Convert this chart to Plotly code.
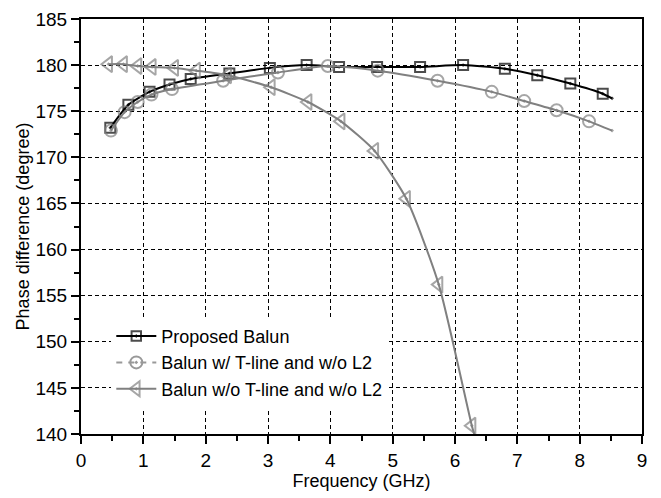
import plotly.graph_objects as go

# ---- data ----
prop_x = [0.47, 0.76, 1.10, 1.42, 1.76, 2.38, 3.03, 3.62, 4.14, 4.75, 5.44, 6.13, 6.80, 7.32, 7.85, 8.37, 8.52]
prop_y = [173.2, 175.7, 177.1, 177.9, 178.5, 179.1, 179.7, 180.0, 179.8, 179.8, 179.8, 180.0, 179.6, 178.9, 178.0, 176.9, 176.4]
prop_m = [1] * 16 + [0]

tl_x = [0.48, 0.70, 0.91, 1.13, 1.46, 2.28, 3.16, 3.96, 4.76, 5.72, 6.59, 7.11, 7.63, 8.15, 8.52]
tl_y = [172.9, 174.9, 176.0, 176.8, 177.4, 178.3, 179.2, 179.9, 179.4, 178.3, 177.1, 176.1, 175.1, 173.9, 172.9]
tl_m = [1] * 14 + [0]

no_x = [0.44, 0.68, 0.91, 1.14, 1.50, 1.85, 2.35, 3.05, 3.64, 4.17, 4.71, 5.22, 5.74, 6.27, 6.33]
no_y = [180.1, 180.1, 179.9, 179.8, 179.7, 179.4, 178.9, 177.6, 176.0, 173.9, 170.7, 165.5, 156.2, 140.9, 139.5]
no_m = [1] * 14 + [0]

names = ["Proposed Balun", "Balun w/ T-line and w/o L2", "Balun w/o T-line and w/o L2"]
x_ticks = list(range(0, 10))
y_ticks = list(range(140, 186, 5))

FONT = "Liberation Sans Narrow, Arial Narrow, Liberation Sans, Arial, sans-serif"
BLACK = "#000000"
GRAY = "#808080"

fig = go.Figure()

def sizes(mask, s):
    return [s if m else 0 for m in mask]

fig.add_trace(go.Scatter(
    x=prop_x, y=prop_y, name=names[0], mode="lines+markers",
    line=dict(color=BLACK, width=2, shape="spline", smoothing=0.6),
    marker=dict(symbol="square-open-dot", size=sizes(prop_m, 10), color=BLACK, line=dict(width=2, color=BLACK)),
))
fig.add_trace(go.Scatter(
    x=tl_x, y=tl_y, name=names[1], mode="lines+markers", showlegend=False,
    line=dict(color=GRAY, width=2, shape="spline", smoothing=0.6),
    marker=dict(symbol="circle-open-dot", size=sizes(tl_m, 12), color=GRAY, line=dict(width=2, color=GRAY)),
))
fig.add_trace(go.Scatter(
    x=[None], y=[None], name=names[1], mode="lines+markers",
    line=dict(color="#999999", width=2, dash="6px,6px"),
    marker=dict(symbol="circle-open-dot", size=12, color="#999999", line=dict(width=2, color="#999999")),
))
fig.add_trace(go.Scatter(
    x=no_x, y=no_y, name=names[2], mode="lines+markers",
    line=dict(color=GRAY, width=2, shape="spline", smoothing=0.6),
    marker=dict(symbol="triangle-left-open-dot", size=sizes(no_m, 14), color=GRAY, line=dict(width=2, color=GRAY)),
))

axis_common = dict(
    showline=True, linewidth=2, linecolor=BLACK, mirror=True,
    ticks="outside", ticklen=8, tickwidth=2, tickcolor=BLACK,
    showgrid=True, gridcolor=BLACK, gridwidth=1, griddash="4px,3px",
    zeroline=False, automargin=False, ticklabeloverflow="allow",
    tickfont=dict(family=FONT, size=19, color=BLACK),
    title_font=dict(family=FONT, size=18, color=BLACK),
)

fig.update_xaxes(
    range=[0, 9], tickvals=x_ticks, ticktext=[str(v) for v in x_ticks],
    minor=dict(dtick=0.5, tick0=0, ticks="outside", ticklen=5, tickwidth=2, tickcolor=BLACK, showgrid=False),
    title_text="Frequency (GHz)", title_standoff=2,
    **axis_common,
)
fig.update_yaxes(
    range=[140, 185], tickvals=y_ticks, ticktext=[str(v) for v in y_ticks],
    minor=dict(dtick=2.5, tick0=140, ticks="outside", ticklen=5, tickwidth=2, tickcolor=BLACK, showgrid=False),
    title_text="Phase difference (degree)", title_standoff=1,
    **axis_common,
)

# page body has an 8px margin, so the figure is sized/placed to compensate
fig.update_layout(
    width=653, height=490,
    margin=dict(l=73, r=19, t=11, b=64),
    plot_bgcolor="white", paper_bgcolor="white",
    font=dict(family=FONT, color=BLACK),
    legend=dict(
        x=0.054, y=0.28, xanchor="left", yanchor="top",
        bgcolor="white", borderwidth=0,
        font=dict(family=FONT, size=18, color=BLACK),
        tracegroupgap=0, itemwidth=40,
    ),
    showlegend=True,
)

fig.write_html("out.html")
